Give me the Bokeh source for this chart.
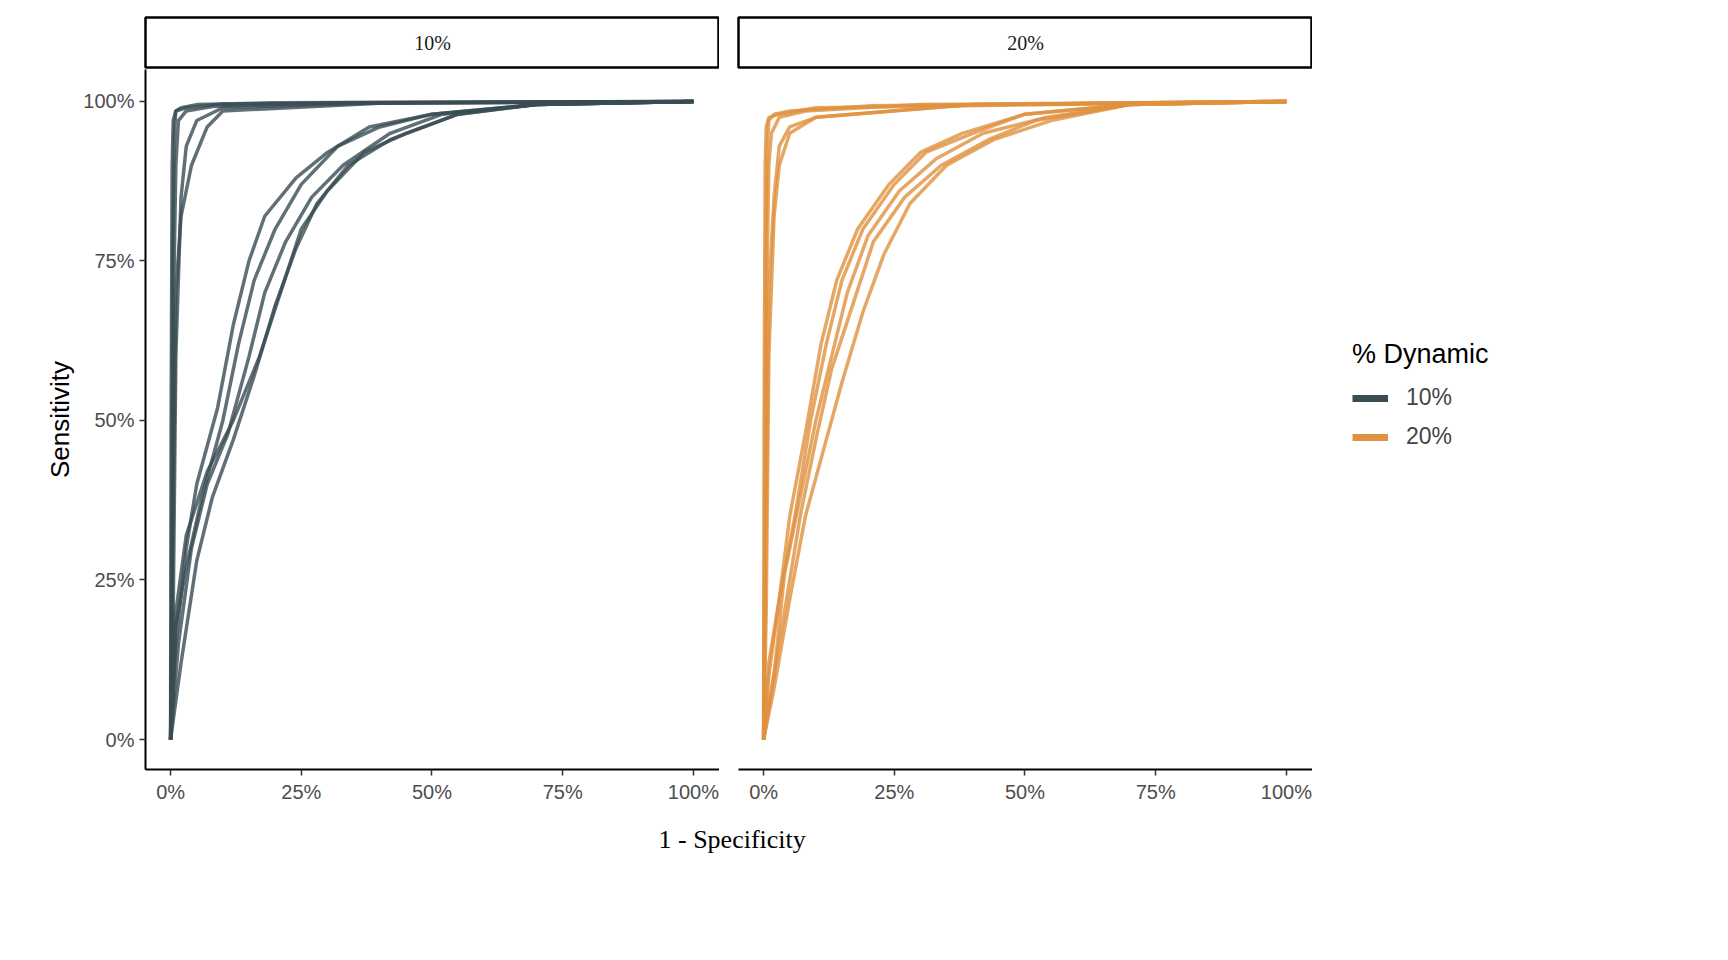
from bokeh.plotting import figure
from bokeh.layouts import row, column
from bokeh.models import Range1d, NumeralTickFormatter, Legend, LegendItem, FixedTicker
from bokeh.embed import file_html
from bokeh.resources import INLINE

panels = ["10%", "20%"]
colors = ["#3a4c54", "#e0913f"]
curves_10 = [
    ([0, 0.002, 0.004, 0.007, 0.01, 0.02, 0.05, 0.2, 1], [0, 0.3, 0.75, 0.95, 0.985, 0.99, 0.995, 0.998, 1]),
    ([0, 0.003, 0.006, 0.01, 0.015, 0.03, 0.08, 0.3, 1], [0, 0.25, 0.7, 0.9, 0.97, 0.985, 0.992, 0.998, 1]),
    ([0, 0.005, 0.01, 0.02, 0.03, 0.05, 0.1, 0.4, 1], [0, 0.2, 0.6, 0.85, 0.93, 0.97, 0.99, 0.998, 1]),
    ([0, 0.004, 0.01, 0.02, 0.04, 0.07, 0.1, 0.4, 1], [0, 0.3, 0.7, 0.82, 0.9, 0.96, 0.985, 0.997, 1]),
    ([0, 0.001, 0.003, 0.005, 0.01, 0.03, 0.1, 1], [0, 0.5, 0.9, 0.97, 0.985, 0.99, 0.996, 1]),
    ([0, 0.01, 0.03, 0.06, 0.1, 0.13, 0.16, 0.2, 0.25, 0.32, 0.4, 0.5, 0.7, 1], [0, 0.18, 0.27, 0.38, 0.5, 0.62, 0.72, 0.8, 0.87, 0.93, 0.96, 0.98, 0.995, 1]),
    ([0, 0.01, 0.03, 0.05, 0.09, 0.12, 0.15, 0.18, 0.24, 0.3, 0.38, 0.5, 0.7, 1], [0, 0.15, 0.3, 0.4, 0.52, 0.65, 0.75, 0.82, 0.88, 0.92, 0.96, 0.98, 0.995, 1]),
    ([0, 0.015, 0.04, 0.07, 0.11, 0.15, 0.18, 0.22, 0.27, 0.33, 0.42, 0.52, 0.7, 1], [0, 0.15, 0.3, 0.4, 0.48, 0.6, 0.7, 0.78, 0.85, 0.9, 0.95, 0.98, 0.995, 1]),
    ([0, 0.02, 0.05, 0.08, 0.12, 0.16, 0.2, 0.24, 0.28, 0.34, 0.42, 0.55, 0.7, 1], [0, 0.12, 0.28, 0.38, 0.47, 0.57, 0.68, 0.77, 0.84, 0.9, 0.94, 0.98, 0.995, 1]),
    ([0, 0.01, 0.03, 0.07, 0.12, 0.17, 0.21, 0.25, 0.3, 0.37, 0.45, 0.55, 0.7, 1], [0, 0.2, 0.32, 0.42, 0.5, 0.6, 0.7, 0.8, 0.86, 0.92, 0.95, 0.98, 0.995, 1]),
]
curves_20 = [
    ([0, 0.002, 0.004, 0.007, 0.01, 0.02, 0.05, 0.2, 1], [0, 0.3, 0.75, 0.93, 0.97, 0.98, 0.985, 0.993, 1]),
    ([0, 0.003, 0.006, 0.01, 0.015, 0.03, 0.08, 0.3, 1], [0, 0.25, 0.7, 0.9, 0.95, 0.975, 0.985, 0.995, 1]),
    ([0, 0.005, 0.01, 0.02, 0.03, 0.05, 0.1, 0.4, 1], [0, 0.2, 0.6, 0.82, 0.9, 0.95, 0.975, 0.995, 1]),
    ([0, 0.004, 0.01, 0.02, 0.03, 0.05, 0.1, 0.4, 1], [0, 0.3, 0.7, 0.85, 0.93, 0.96, 0.975, 0.995, 1]),
    ([0, 0.001, 0.003, 0.005, 0.01, 0.03, 0.1, 1], [0, 0.5, 0.9, 0.96, 0.975, 0.98, 0.99, 1]),
    ([0, 0.01, 0.03, 0.05, 0.08, 0.11, 0.14, 0.18, 0.24, 0.3, 0.38, 0.5, 0.7, 1], [0, 0.12, 0.22, 0.35, 0.48, 0.62, 0.72, 0.8, 0.87, 0.92, 0.95, 0.98, 0.995, 1]),
    ([0, 0.01, 0.03, 0.06, 0.09, 0.12, 0.15, 0.19, 0.25, 0.31, 0.4, 0.5, 0.7, 1], [0, 0.1, 0.22, 0.35, 0.5, 0.62, 0.72, 0.8, 0.87, 0.92, 0.95, 0.98, 0.995, 1]),
    ([0, 0.015, 0.04, 0.07, 0.1, 0.13, 0.17, 0.21, 0.27, 0.34, 0.43, 0.52, 0.7, 1], [0, 0.08, 0.2, 0.35, 0.47, 0.58, 0.68, 0.78, 0.85, 0.9, 0.94, 0.97, 0.995, 1]),
    ([0, 0.02, 0.05, 0.08, 0.12, 0.15, 0.19, 0.23, 0.28, 0.35, 0.44, 0.55, 0.7, 1], [0, 0.08, 0.22, 0.35, 0.47, 0.56, 0.67, 0.76, 0.84, 0.9, 0.94, 0.97, 0.995, 1]),
    ([0, 0.02, 0.04, 0.07, 0.1, 0.13, 0.16, 0.2, 0.26, 0.33, 0.42, 0.54, 0.7, 1], [0, 0.1, 0.26, 0.38, 0.5, 0.6, 0.7, 0.79, 0.86, 0.91, 0.95, 0.975, 0.995, 1]),
]
all_curves = [curves_10, curves_20]
ticks = [0, 0.25, 0.5, 0.75, 1.0]
FONT = "Liberation Sans"

FW, FH = 574, 700
cols = []
for i, (name, curves, col) in enumerate(zip(panels, all_curves, colors)):
    left = 145 if i == 0 else 19
    s = figure(frame_width=FW, frame_height=50, min_border_left=left, min_border_right=0,
               min_border_top=17, min_border_bottom=2, toolbar_location=None,
               output_backend="svg", x_range=Range1d(0, 1), y_range=Range1d(0, 1))
    s.axis.visible = False
    s.grid.visible = False
    s.outline_line_color = "black"
    s.outline_line_width = 2.5
    s.text(x=[0.5], y=[0.5], text=[name], text_align="center", text_baseline="middle",
           text_font_size="20px", text_color="#1a1a1a", text_font=FONT)
    p = figure(frame_width=FW, frame_height=FH, min_border_left=left, min_border_right=0,
               min_border_top=0, min_border_bottom=50, toolbar_location=None,
               output_backend="svg", x_range=Range1d(-0.048, 1.05), y_range=Range1d(-0.047, 1.05))
    for xs, ys in curves:
        p.line(xs, ys, line_color=col, line_width=3.5, line_alpha=0.8)
    p.grid.visible = False
    p.outline_line_color = None
    for ax in [p.xaxis[0], p.yaxis[0]]:
        ax.ticker = FixedTicker(ticks=ticks)
        ax.formatter = NumeralTickFormatter(format="0%")
        ax.axis_line_width = 2
        ax.axis_line_color = "black"
        ax.major_tick_line_color = "#333333"
        ax.major_tick_line_width = 1.5
        ax.major_tick_out = 6
        ax.major_tick_in = 0
        ax.minor_tick_line_color = None
        ax.major_label_text_font_size = "20px"
        ax.major_label_text_font = FONT
        ax.major_label_text_color = "#4d4d4d"
        ax.axis_label_text_font_style = "normal"
        ax.axis_label_text_font_size = "26px"
        ax.axis_label_text_font = FONT
        ax.axis_label_text_color = "black"
    if i == 0:
        p.yaxis.axis_label = "Sensitivity"
    else:
        p.yaxis.visible = False
    cols.append(column(s, p, spacing=0))

lg = figure(width=230, height=FH + 120, toolbar_location=None, output_backend="svg",
            x_range=Range1d(0, 1), y_range=Range1d(0, 1), min_border=0)
lg.axis.visible = False
lg.grid.visible = False
lg.outline_line_color = None
items = []
for name, col in zip(panels, colors):
    r = lg.line([-10, -9], [-10, -9], line_color=col, line_width=7)
    items.append(LegendItem(label=name, renderers=[r]))
leg = Legend(items=items, title="% Dynamic", location=(40, 370), border_line_color=None,
             background_fill_alpha=0,
             title_text_font_size="27px", title_text_font_style="normal", title_text_font=FONT,
             title_text_color="black",
             label_text_font_size="23px", label_text_font=FONT, glyph_width=36,
             spacing=12, label_standoff=18, title_standoff=14)
lg.add_layout(leg, "center")

xl = figure(width=145 + FW + 19 + FW, height=40, toolbar_location=None, output_backend="svg",
            x_range=Range1d(0, 1), y_range=Range1d(0, 1), min_border=0)
xl.axis.visible = False
xl.grid.visible = False
xl.outline_line_color = None
xl.text(x=[(145 + FW + 10) / (145 + FW + 19 + FW) + 0.002], y=[0.5], text=["1 - Specificity"],
        text_align="center", text_baseline="middle", text_font_size="26px",
        text_font=FONT, text_color="black")

layout = row(column(row(cols[0], cols[1], spacing=0), xl, spacing=0), lg, spacing=0)
open("out.html", "w").write(file_html(layout, INLINE))
